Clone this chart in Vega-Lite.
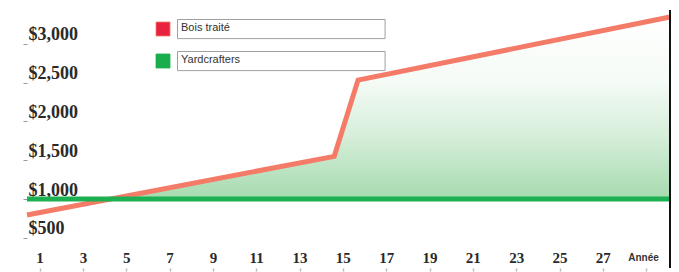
{
  "$schema": "https://vega.github.io/schema/vega-lite/v6.json",
  "width": 643,
  "height": 258,
  "autosize": {"type": "none"},
  "padding": {"left": 27, "top": 10, "right": 9, "bottom": 4},
  "background": "white",
  "config": {"view": {"stroke": null}},
  "datasets": {
    "lignes": [
      {"annee": 0.42, "cout": 794, "serie": "Bois traité"},
      {"annee": 14.6, "cout": 1550, "serie": "Bois traité"},
      {"annee": 15.7, "cout": 2533, "serie": "Bois traité"},
      {"annee": 30.1, "cout": 3345, "serie": "Bois traité"},
      {"annee": 0.42, "cout": 1000, "serie": "Yardcrafters"},
      {"annee": 30.1, "cout": 1000, "serie": "Yardcrafters"}
    ],
    "ecart": [
      {"annee": 4.29, "haut": 1000, "bas": 1000},
      {"annee": 14.6, "haut": 1550, "bas": 1000},
      {"annee": 15.7, "haut": 2533, "bas": 1000},
      {"annee": 30.1, "haut": 3345, "bas": 1000}
    ],
    "bord": [{"annee": 30.1}]
  },
  "layer": [
    {
      "data": {"name": "ecart"},
      "mark": {
        "type": "area",
        "color": {
          "gradient": "linear",
          "x1": 0, "y1": 0, "x2": 0, "y2": 1,
          "stops": [
            {"offset": 0, "color": "#ffffff"},
            {"offset": 0.35, "color": "#f5fbf6"},
            {"offset": 0.65, "color": "#d6eeda"},
            {"offset": 1, "color": "#a6dbae"}
          ]
        }
      },
      "encoding": {
        "x": {
          "field": "annee", "type": "quantitative",
          "scale": {"domain": [0.42, 30.1], "nice": false, "zero": false},
          "axis": {
            "values": [1,2,3,4,5,6,7,8,9,10,11,12,13,14,15,16,17,18,19,20,21,22,23,24,25,26,27,28,29,30],
            "labelExpr": "datum.value % 2 == 1 && datum.value <= 27 ? datum.label : ''",
            "domain": false,
            "grid": false,
            "tickSize": 3,
            "tickColor": "#bbbbbb",
            "tickWidth": 1.5,
            "labelPadding": -14,
            "labelBaseline": "middle",
            "labelFont": "Liberation Serif",
            "labelFontWeight": "bold",
            "labelFontSize": 15,
            "labelColor": "#2a2a2a",
            "labelOverlap": false,
            "title": "Année",
            "titleFont": "Liberation Sans",
            "titleFontSize": 10,
            "titleFontWeight": "bold",
            "titleColor": "#333333",
            "titleX": 616,
            "titleY": -11,
            "titleAlign": "center",
            "titleBaseline": "middle"
          }
        },
        "y": {
          "field": "haut", "type": "quantitative",
          "scale": {"domain": [111, 3436], "nice": false, "zero": false},
          "axis": {
            "values": [500, 1000, 1500, 2000, 2500, 3000],
            "format": "$,.0f",
            "domain": false,
            "grid": false,
            "tickSize": 4,
            "tickColor": "#999999",
            "labelAlign": "left",
            "labelPadding": -5,
            "labelOffset": -9,
            "labelFont": "Liberation Serif",
            "labelFontWeight": "bold",
            "labelFontSize": 18,
            "labelColor": "#2a2a2a",
            "title": null
          }
        },
        "y2": {"field": "bas"}
      }
    },
    {
      "data": {"name": "lignes"},
      "transform": [{"filter": "datum.serie === 'Bois traité'"}],
      "mark": {"type": "line", "strokeWidth": 5, "strokeCap": "butt"},
      "encoding": {
        "x": {"field": "annee", "type": "quantitative"},
        "y": {"field": "cout", "type": "quantitative"},
        "color": {
          "field": "serie", "type": "nominal",
          "scale": {"domain": ["Bois traité", "Yardcrafters"], "range": ["#f47b68", "#1cb052"]},
          "legend": {
            "title": null,
            "orient": "none",
            "legendX": 150,
            "legendY": 9,
            "padding": 0,
            "rowPadding": 12,
            "symbolType": "square",
            "symbolSize": 196,
            "labelFont": "Liberation Sans",
            "labelFontSize": 11,
            "labelColor": "#333333",
            "labelLimit": 0,
            "labelExpr": "pad(datum.label, 30, '\u2800')",
            "encode": {
              "entries": {
                "update": {
                  "fill": {"value": "white"},
                  "stroke": {"value": "#a0a0a0"},
                  "strokeWidth": {"value": 1}
                }
              },
              "symbols": {
                "update": {
                  "x": {"value": -14},
                  "y": {"value": 10},
                  "fill": {"signal": "datum.value === 'Bois traité' ? '#e8233f' : '#19ad4b'"},
                  "stroke": {"value": "#555555"},
                  "strokeWidth": {"value": 0.8},
                  "opacity": {"value": 1}
                }
              },
              "labels": {
                "update": {
                  "x": {"value": 4},
                  "y": {"value": 9},
                  "baseline": {"value": "middle"}
                }
              }
            }
          }
        }
      }
    },
    {
      "data": {"name": "lignes"},
      "transform": [{"filter": "datum.serie === 'Yardcrafters'"}],
      "mark": {"type": "line", "strokeWidth": 5, "strokeCap": "butt"},
      "encoding": {
        "x": {"field": "annee", "type": "quantitative"},
        "y": {"field": "cout", "type": "quantitative"},
        "color": {"field": "serie", "type": "nominal"}
      }
    },
    {
      "data": {"name": "bord"},
      "mark": {"type": "rule", "color": "#111111", "strokeWidth": 2},
      "encoding": {"x": {"field": "annee", "type": "quantitative"}}
    }
  ]
}
